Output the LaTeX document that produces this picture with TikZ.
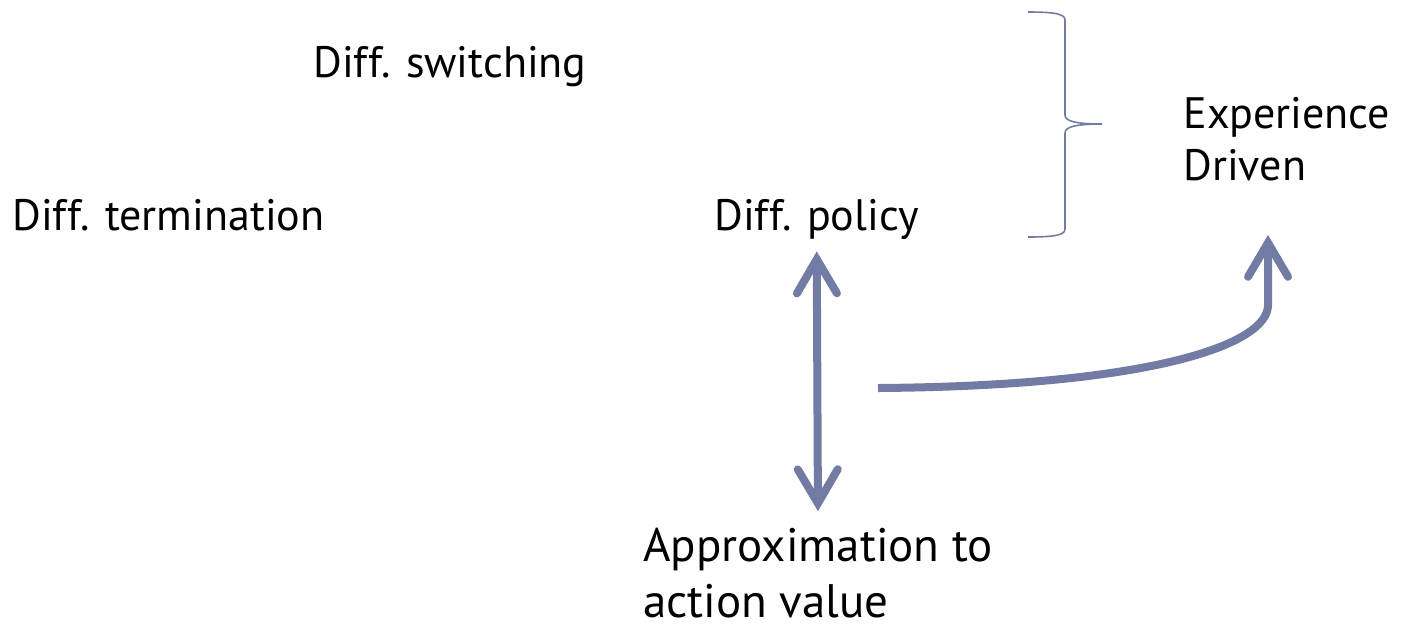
\documentclass[tikz,border=0pt]{standalone}
\usepackage{fontspec}
\setmainfont{PT Sans}
\usepackage{tikz}
\usetikzlibrary{
	positioning		% relative placement
	, arrows.meta		% Straight Barb tips
	, calc
}
\definecolor{slateblue}{RGB}{113,123,163}

\begin{document}
\begin{tikzpicture}[
		x=0.5pt, y=-0.5pt
		, label/.style={inner sep=0pt, anchor=base west, font=\fontsize{22}{26}\selectfont, align=left}
		, flow/.style={draw=slateblue, line width=4pt, line cap=round, -{Straight Barb[length=17pt, width=20pt, line width=4pt, line cap=round]}}
		, twoway/.style={flow, {Straight Barb[length=17pt, width=20pt, line width=4pt, line cap=round]}-{Straight Barb[length=17pt, width=20pt, line width=4pt, line cap=round]}}
		, bracket/.style={draw=slateblue, line width=0.8pt}]

		\useasboundingbox (0,0) rectangle (1402,623);

		%%% Labels (base of multi-line nodes is the last line)
		\node[label] (switching) at (313,77) {Diff. switching};
		\node[label] (termination) at (12,230) {Diff. termination};
		\node[label] (policy) at (714,230) {Diff. policy};
		\node[label] (experience) at (1183,180) {Experience\\Driven};
		\node[label, font=\fontsize{23.5}{28}\selectfont] (approx) at (643,617) {Approximation to\\action value};

		%%% Brace
		\draw[bracket] (1028,12) .. controls (1055,12) and (1065,14) .. (1065,20)
			-- (1065,115) .. controls (1065,121) and (1075,124) .. (1102,124)
			.. controls (1075,124) and (1065,127) .. (1065,133)
			-- (1065,229) .. controls (1065,235) and (1055,237) .. (1028,237);

		%%% Arrows
		\coordinate (tail) at (878,388);
		\coordinate (bend) at (1268,305);
		\draw[twoway, shorten <=6pt, shorten >=8pt] (policy.south) -- (approx.north);
		\draw[flow, line cap=butt, shorten >=27pt] (tail) .. controls (1150,386) and (1268,345) .. (bend)
			-- (bend |- experience.south);
	\end{tikzpicture}
\end{document}
